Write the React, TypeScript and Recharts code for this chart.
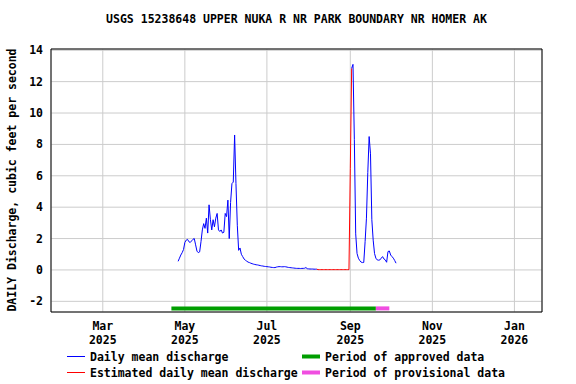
import React from 'react';
import { LineChart, Line, XAxis, YAxis, CartesianGrid, ReferenceLine, ReferenceArea } from 'recharts';

const TITLE = 'USGS 15238648 UPPER NUKA R NR PARK BOUNDARY NR HOMER AK';
const Y_LABEL = 'DAILY Discharge, cubic feet per second';

// Daily mean discharge, first run of days (starting 2025-04-26)
const dailyStart1 = '2025-04-26';
const dailyMean1 = [
  0.55, 0.75, 0.95, 1.1, 1.3, 1.75, 1.9, 1.95, 1.8, 1.75,
  1.85, 1.95, 2.0, 1.6, 1.2, 1.1, 1.15, 1.8, 2.55, 2.95,
  2.65, 3.3, 2.35, 4.15, 3.2, 2.55, 3.2, 2.75, 3.3, 3.6,
  2.55, 2.45, 2.55, 2.35, 2.4, 3.6, 3.4, 4.45, 2.0, 4.3,
  5.5, 5.6, 8.6, 5.5, 2.85, 1.25, 1.4, 1.0, 0.85, 0.7,
  0.62, 0.56, 0.5, 0.47, 0.43, 0.4, 0.37, 0.35, 0.33, 0.32,
  0.3, 0.28, 0.26, 0.25, 0.23, 0.22, 0.21, 0.2, 0.19, 0.17,
  0.16, 0.15, 0.15, 0.18, 0.2, 0.21, 0.21, 0.2, 0.2, 0.21,
  0.2, 0.18, 0.16, 0.15, 0.14, 0.13, 0.12, 0.11, 0.1, 0.1,
  0.1, 0.09, 0.1, 0.1, 0.11, 0.15, 0.08, 0.07, 0.06, 0.06,
  0.06, 0.05, 0.05, 0.05,
];

// Estimated daily mean discharge (starting 2025-08-07)
const estimatedStart = '2025-08-07';
const estimatedMean = [
  0.05, 0.02, 0.02, 0.02, 0.02, 0.02, 0.02, 0.02, 0.02, 0.02,
  0.02, 0.02, 0.02, 0.02, 0.02, 0.02, 0.02, 0.02, 0.02, 0.02,
  0.02, 0.02, 0.02, 0.02, 0.02, 6.45, 12.85,
];

// Daily mean discharge, second run (starting 2025-09-02)
const dailyStart2 = '2025-09-02';
const dailyMean2 = [
  12.85, 13.1, 8.3, 2.3, 1.05, 0.75, 0.6, 0.5, 0.47, 0.48,
  1.8, 3.3, 6.2, 8.5, 7.4, 3.2, 1.9, 1.05, 0.75, 0.64,
  0.62, 0.64, 0.75, 0.85, 0.7, 0.64, 0.49, 1.17, 1.21, 0.95,
  0.85, 0.75, 0.6, 0.43,
];

const approvedPeriod = ['2025-04-21', '2025-09-20'];
const provisionalPeriod = ['2025-09-20', '2025-09-30'];

const xTickDates = ['2025-03-01', '2025-05-01', '2025-07-01', '2025-09-01', '2025-11-01', '2026-01-01'];
const xTickMonths = ['Mar', 'May', 'Jul', 'Sep', 'Nov', 'Jan'];
const xTickYears = ['2025', '2025', '2025', '2025', '2025', '2026'];
const yTicks = [-2, 0, 2, 4, 6, 8, 10, 12, 14];

const DAY_MS = 86400000;
const BASE = Date.parse('2025-01-01');
const toDay = (iso: string) => Math.round((Date.parse(iso) - BASE) / DAY_MS);

const rowsMap = new Map<number, any>();
const addSeries = (start: string, vals: number[], key: string) => {
  const d0 = toDay(start);
  vals.forEach((v, i) => {
    const d = d0 + i;
    const r = rowsMap.get(d) || { day: d, q: null, est: null };
    r[key] = v;
    rowsMap.set(d, r);
  });
};
addSeries(dailyStart1, dailyMean1, 'q');
addSeries(estimatedStart, estimatedMean, 'est');
addSeries(dailyStart2, dailyMean2, 'q');
const data = Array.from(rowsMap.values()).sort((a, b) => a.day - b.day);

const xTicks = xTickDates.map(toDay);
const X_DOMAIN: [number, number] = [20.5, 385.5];
const Y_DOMAIN: [number, number] = [-2.68, 14.08];
const BAR_Y = -2.45;

const FONT = '"DejaVu Sans Mono", "Liberation Mono", monospace';

const XTick = (props: any) => {
  const { x, y, payload } = props;
  const i = xTicks.indexOf(payload.value);
  return (
    <text x={x} y={y} textAnchor="middle" fontFamily={FONT} fontWeight="bold" fontSize={11.5} fill="#000">
      <tspan x={x} y={y + 18}>{xTickMonths[i]}</tspan>
      <tspan x={x} y={y + 31.5}>{xTickYears[i]}</tspan>
    </text>
  );
};

const legendText: React.CSSProperties = {
  position: 'absolute', fontFamily: FONT, fontWeight: 'bold', fontSize: 11.5, lineHeight: '14px', whiteSpace: 'nowrap',
};

export default function App() {
  return (
    <div style={{ position: 'absolute', left: 0, top: 0, width: 576, height: 384, background: '#fff' }}>
      <div style={{ ...legendText, left: 51, width: 491, top: 12, textAlign: 'center' }}>{TITLE}</div>
      <div
        style={{
          ...legendText, left: 12 - 150, top: 179.5 - 7, width: 300, textAlign: 'center',
          transform: 'rotate(-90deg)', transformOrigin: '50% 50%',
        }}
      >
        {Y_LABEL}
      </div>
      <LineChart width={576} height={384} data={data} margin={{ top: 49, right: 34, bottom: 0, left: 0 }}>
        <CartesianGrid stroke="#cccccc" strokeWidth={1} />
        <XAxis
          dataKey="day"
          type="number"
          domain={X_DOMAIN}
          ticks={xTicks}
          allowDataOverflow
          tickLine={false}
          axisLine={false}
          tickSize={0}
          tickMargin={0}
          tick={<XTick />}
          interval={0}
          height={72}
        />
        <YAxis
          type="number"
          domain={Y_DOMAIN}
          ticks={yTicks}
          allowDataOverflow
          width={51}
          tickLine={false}
          axisLine={false}
          tickSize={0}
          tickMargin={8}
          tick={{ fontFamily: FONT, fontWeight: 'bold', fontSize: 11.5, fill: '#000' }}
          interval={0}
        />
        <ReferenceLine
          segment={[{ x: toDay(approvedPeriod[0]), y: BAR_Y }, { x: toDay(approvedPeriod[1]), y: BAR_Y }]}
          stroke="#009e00"
          strokeWidth={4}
        />
        <ReferenceLine
          segment={[{ x: toDay(provisionalPeriod[0]), y: BAR_Y }, { x: toDay(provisionalPeriod[1]), y: BAR_Y }]}
          stroke="#f04ee0"
          strokeWidth={4}
        />
        <Line type="linear" dataKey="est" stroke="#ff0000" strokeWidth={1} dot={false} isAnimationActive={false} connectNulls={false} />
        <Line type="linear" dataKey="q" stroke="#0000ff" strokeWidth={1} dot={false} isAnimationActive={false} connectNulls={false} />
        <ReferenceArea x1={X_DOMAIN[0]} x2={X_DOMAIN[1]} y1={Y_DOMAIN[0]} y2={Y_DOMAIN[1]} fill="none" stroke="#000" strokeWidth={1} ifOverflow="extendDomain" />
      </LineChart>
      {/* Legend */}
      <svg style={{ position: 'absolute', left: 0, top: 0, pointerEvents: 'none' }} width={576} height={384}>
        <line x1={67} x2={85} y1={356.5} y2={356.5} stroke="#0000ff" strokeWidth={1} />
        <line x1={67} x2={85} y1={372.5} y2={372.5} stroke="#ff0000" strokeWidth={1} />
        <line x1={302} x2={320} y1={356.5} y2={356.5} stroke="#009e00" strokeWidth={4} />
        <line x1={302} x2={320} y1={372.5} y2={372.5} stroke="#f04ee0" strokeWidth={4} />
      </svg>
      <div style={{ ...legendText, left: 90, top: 349.5 }}>Daily mean discharge</div>
      <div style={{ ...legendText, left: 90, top: 365.5 }}>Estimated daily mean discharge</div>
      <div style={{ ...legendText, left: 325, top: 349.5 }}>Period of approved data</div>
      <div style={{ ...legendText, left: 325, top: 365.5 }}>Period of provisional data</div>
    </div>
  );
}
